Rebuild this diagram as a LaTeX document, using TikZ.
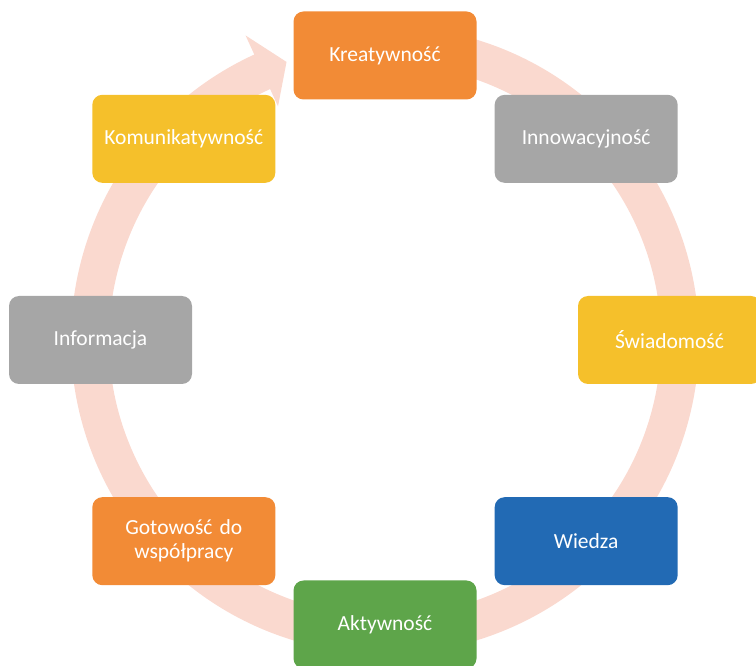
\documentclass[tikz,border=0pt]{standalone}
\usepackage{fontspec}
\setmainfont{Carlito}
\definecolor{ringpink}{HTML}{FAD9CF}
\definecolor{boxorange}{HTML}{F28B36}
\definecolor{boxgray}{HTML}{A6A6A6}
\definecolor{boxyellow}{HTML}{F5C02B}
\definecolor{boxblue}{HTML}{226AB4}
\definecolor{boxgreen}{HTML}{5EA54A}
\tikzset{
  stage/.style={rounded corners=10pt, minimum width=183pt, minimum height=88pt,
    inner sep=2pt, text=white, align=center, text width=170pt,
    font=\fontsize{21.5}{24}\selectfont},
  ringband/.style={fill=ringpink, draw=none}
}
\begin{document}
\begin{tikzpicture}[x=1pt, y=1pt]
  \useasboundingbox (0,0) rectangle (756,665);
  \clip (0,0) rectangle (756,665);
  \begin{scope}[shift={(385,325)}]
    % circular arrow behind the stages, running clockwise
    \fill[ringband] (75:314pt) arc[start angle=75, end angle=-245.4, radius=314pt]
      -- (114.6:335pt) -- (109.5:295pt) -- (114.6:257pt) -- (114.6:276pt)
      arc[start angle=-245.4, end angle=75, radius=276pt] -- cycle;
    % the eight stages
    \node[stage, fill=boxorange] (kre) at (90:284.5pt) {Kreatywność};
    \node[stage, fill=boxgray]   (inn) at (45:284.5pt) {Innowacyjność};
    \node[stage, fill=boxyellow] (swi) at (0:284.5pt) {Świadomość};
    \node[stage, fill=boxblue]   (wie) at (-45:284.5pt) {Wiedza};
    \node[stage, fill=boxgreen]  (akt) at (-90:284.5pt) {Aktywność};
    \node[stage, fill=boxorange] (got) at (-135:284.5pt) {Gotowość do\\współpracy};
    \node[stage, fill=boxgray]   (inf) at (180:284.5pt) {Informacja};
    \node[stage, fill=boxyellow] (kom) at (135:284.5pt) {Komunikatywność};
  \end{scope}
\end{tikzpicture}
\end{document}
